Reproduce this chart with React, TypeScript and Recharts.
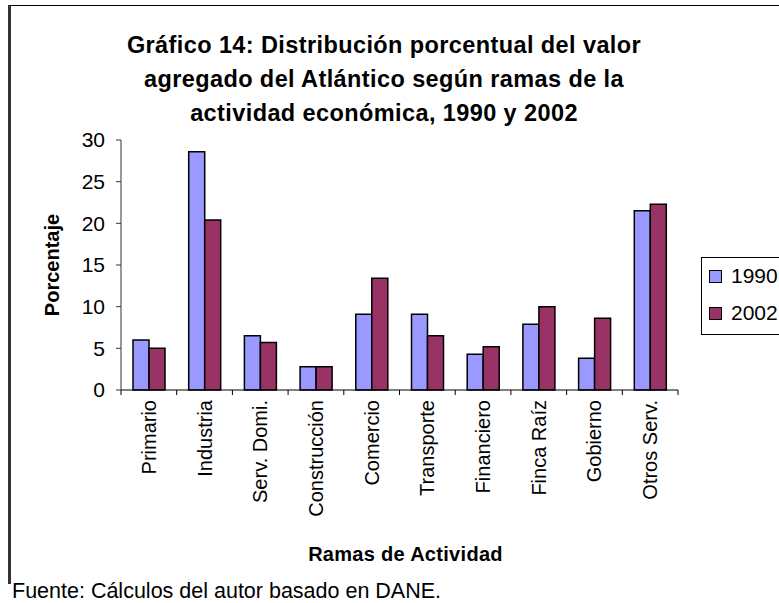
import React from "react";
import { BarChart, Bar, XAxis, YAxis } from "recharts";

const categories = [
  "Primario",
  "Industria",
  "Serv. Domi.",
  "Construcción",
  "Comercio",
  "Transporte",
  "Financiero",
  "Finca Raíz",
  "Gobierno",
  "Otros Serv.",
];
const values1990 = [6.0, 28.6, 6.5, 2.8, 9.1, 9.1, 4.3, 7.9, 3.8, 21.5];
const values2002 = [5.0, 20.4, 5.7, 2.8, 13.4, 6.5, 5.2, 10.0, 8.6, 22.3];
const yTicks = [0, 5, 10, 15, 20, 25, 30];

const series = [
  { key: "y1990", name: "1990", color: "#9999FF" },
  { key: "y2002", name: "2002", color: "#993366" },
];

const titleLines = [
  "Gráfico 14: Distribución porcentual del valor",
  "agregado del Atlántico según ramas de la",
  "actividad económica, 1990 y 2002",
];

const FONT = '"Liberation Sans", Arial, sans-serif';
const W = 779;
const H = 603;
const PLOT_LEFT = 121;
const PLOT_RIGHT = 678;
const BAND = (PLOT_RIGHT - PLOT_LEFT) / categories.length;

const data = categories.map((c, i) => ({
  name: c,
  y1990: values1990[i],
  y2002: values2002[i],
}));

function CategoryTick(props: any) {
  const { x, y, payload, index } = props;
  return (
    <g>
      <line x1={x - BAND / 2} x2={x - BAND / 2} y1={y} y2={y + 5} stroke="#000" />
      {index === categories.length - 1 && (
        <line x1={x + BAND / 2} x2={x + BAND / 2} y1={y} y2={y + 5} stroke="#000" />
      )}
      <text
        x={x}
        y={y + 10}
        transform={`rotate(-90, ${x}, ${y + 10})`}
        textAnchor="end"
        dominantBaseline="central"
        fontSize={20}
        fontFamily={FONT}
        fill="#000"
      >
        {payload.value}
      </text>
    </g>
  );
}

export default function App() {
  return (
    <div
      style={{
        position: "absolute",
        left: 0,
        top: 0,
        width: W,
        height: H,
        background: "#fff",
        fontFamily: FONT,
        overflow: "hidden",
      }}
    >
      {/* chart frame, cut off on the right like the original */}
      <div
        style={{
          position: "absolute",
          left: 8,
          top: 5,
          width: 800,
          height: 578,
          borderTop: "1.5px solid #000",
          borderLeft: "3px solid #333",
        }}
      />

      <div
        style={{
          position: "absolute",
          left: 0,
          top: 28,
          width: 768,
          textAlign: "center",
          fontWeight: "bold",
          fontSize: 23.5,
          lineHeight: "34px",
          letterSpacing: 0.4,
          color: "#000",
        }}
      >
        {titleLines.map((l) => (
          <div key={l}>{l}</div>
        ))}
      </div>

      <div style={{ position: "absolute", left: 0, top: 0 }}>
        <BarChart
          width={W}
          height={H}
          data={data}
          margin={{ top: 140, right: W - PLOT_RIGHT, left: PLOT_LEFT - 80, bottom: 33 }}
          barGap={0}
          barSize={16}
        >
          <XAxis
            dataKey="name"
            interval={0}
            height={180}
            axisLine={{ stroke: "#000" }}
            tickLine={false}
            tickSize={0}
            tickMargin={0}
            tick={<CategoryTick />}
            label={{
              content: ({ viewBox }: any) => (
                <text
                  x={viewBox.x + viewBox.width / 2 + 6}
                  y={viewBox.y + 164}
                  textAnchor="middle"
                  dominantBaseline="central"
                  fontSize={20}
                  fontWeight="bold"
                  fontFamily={FONT}
                  letterSpacing={0.3}
                  fill="#000"
                >
                  Ramas de Actividad
                </text>
              ),
            }}
          />
          <XAxis
            xAxisId="top"
            orientation="top"
            dataKey="name"
            height={0}
            tick={false}
            tickLine={false}
            axisLine={{ stroke: "#808080", strokeWidth: 1.5 }}
          />
          <YAxis
            width={80}
            domain={[0, 30]}
            ticks={yTicks}
            interval={0}
            tickSize={5}
            tickMargin={11}
            axisLine={{ stroke: "#333" }}
            tickLine={{ stroke: "#333" }}
            tick={{ fontSize: 21, fontFamily: FONT, fill: "#000" }}
            label={{
              content: ({ viewBox }: any) => {
                const cx = viewBox.x + 11;
                const cy = viewBox.y + viewBox.height / 2;
                return (
                  <text
                    x={cx}
                    y={cy}
                    transform={`rotate(-90, ${cx}, ${cy})`}
                    textAnchor="middle"
                    dominantBaseline="central"
                    fontSize={20}
                    fontWeight="bold"
                    fontFamily={FONT}
                    fill="#000"
                  >
                    Porcentaje
                  </text>
                );
              },
            }}
          />
          <YAxis
            yAxisId="right"
            orientation="right"
            width={0}
            domain={[0, 30]}
            tick={false}
            tickLine={false}
            axisLine={{ stroke: "#808080", strokeWidth: 1.5 }}
          />
          {series.map((s) => (
            <Bar
              key={s.key}
              dataKey={s.key}
              name={s.name}
              fill={s.color}
              stroke="#000"
              strokeWidth={1.5}
              isAnimationActive={false}
            />
          ))}
        </BarChart>
      </div>

      {/* legend */}
      <div
        style={{
          position: "absolute",
          left: 701,
          top: 257,
          width: 100,
          height: 76,
          border: "1px solid #000",
        }}
      >
        {series.map((s, i) => (
          <div
            key={s.key}
            style={{
              position: "absolute",
              left: 0,
              top: 5 + i * 37,
              height: 26,
              display: "flex",
              alignItems: "center",
            }}
          >
            <div
              style={{
                marginLeft: 7,
                width: 11,
                height: 11,
                background: s.color,
                border: "1px solid #000",
              }}
            />
            <span style={{ marginLeft: 9, fontSize: 21, color: "#000" }}>{s.name}</span>
          </div>
        ))}
      </div>

      <div
        style={{
          position: "absolute",
          left: 12,
          top: 579,
          fontSize: 21.5,
          lineHeight: "24px",
          color: "#000",
          whiteSpace: "nowrap",
        }}
      >
        Fuente: Cálculos del autor basado en DANE.
      </div>
    </div>
  );
}
